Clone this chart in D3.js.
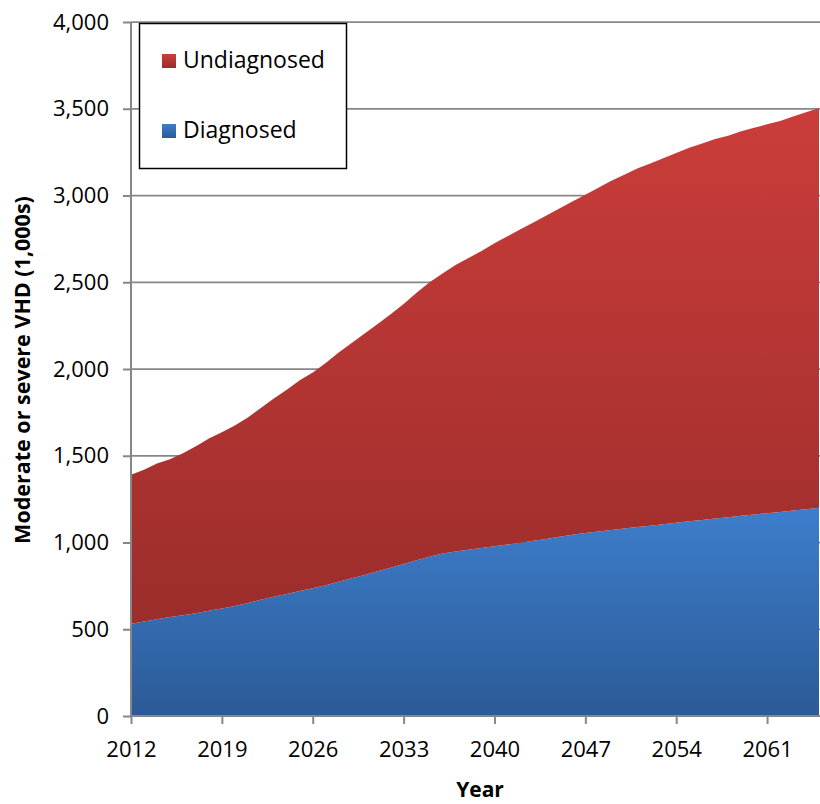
<!DOCTYPE html>
<html>
<head>
<meta charset="utf-8">
<script src="https://cdn.jsdelivr.net/npm/d3@7"></script>
<style>
    body { margin: 0; background: #fff; }
    text { font-family: "Open Sans", sans-serif; fill: #000; }
</style>
</head>
<body>
<div id="chart"></div>
<script>
// years on the category axis
let years = d3.range(2012, 2066);
let tickYears = [2012, 2019, 2026, 2033, 2040, 2047, 2054, 2061];
let yTicks = [0, 500, 1000, 1500, 2000, 2500, 3000, 3500, 4000];

// series values, thousands of people
let diagnosed = [532, 545, 558, 570, 580, 592, 606, 620, 634, 651,
    670, 687, 703, 720, 736, 754, 774, 794, 813, 834,
    855, 876, 898, 918, 936, 948, 958, 968, 978, 988,
    998, 1010, 1020, 1033, 1045, 1055, 1063, 1072, 1080, 1089,
    1097, 1105, 1114, 1122, 1130, 1138, 1146, 1154, 1162, 1169,
    1176, 1184, 1192, 1200];
let undiagnosed = [858, 875, 897, 910, 935, 963, 994, 1015, 1041, 1069,
    1105, 1143, 1177, 1215, 1244, 1281, 1321, 1356, 1392, 1426,
    1460, 1499, 1542, 1582, 1614, 1652, 1682, 1712, 1747, 1777,
    1807, 1835, 1865, 1892, 1920, 1950, 1982, 2013, 2040, 2066,
    2088, 2110, 2131, 2153, 2170, 2187, 2199, 2216, 2228, 2241,
    2254, 2271, 2288, 2305];

let seriesNames = ['Diagnosed', 'Undiagnosed'];

let width = 820, height = 804;
let plotLeft = 131, plotRight = 820, plotTop = 22, plotBottom = 716;

let svg = d3.select('#chart').append('svg')
    .attr('width', width)
    .attr('height', height);

let defs = svg.append('defs');
function addGradient(id, c1, c2){
    let g = defs.append('linearGradient')
        .attr('id', id)
        .attr('x1', 0).attr('y1', 0)
        .attr('x2', 0).attr('y2', 1);
    g.append('stop').attr('offset', '0%').attr('stop-color', c1);
    g.append('stop').attr('offset', '100%').attr('stop-color', c2);
}
addGradient('gradRed', '#cb3d3a', '#9b2d2b');
addGradient('gradBlue', '#3d7ecc', '#2c5a96');

let fills = { 'Diagnosed': 'url(#gradBlue)', 'Undiagnosed': 'url(#gradRed)' };

let x = d3.scaleLinear()
    .domain([2012, 2065])
    .range([plotLeft, plotRight - 1]);

let y = d3.scaleLinear()
    .domain([0, 4000])
    .range([plotBottom, plotTop]);

let table = years.map(function(yr, i){
    return { year: yr, 'Diagnosed': diagnosed[i], 'Undiagnosed': undiagnosed[i] };
});

let stacked = d3.stack().keys(seriesNames)(table);

// gridlines
svg.append('g')
    .selectAll('line')
    .data(yTicks.filter(function(d){ return d > 0; }))
    .enter()
    .append('line')
    .attr('x1', plotLeft)
    .attr('x2', plotRight)
    .attr('y1', function(d){ return y(d); })
    .attr('y2', function(d){ return y(d); })
    .attr('stroke', '#878787')
    .attr('stroke-width', 1.75);

let area = d3.area()
    .x(function(d){ return x(d.data.year); })
    .y0(function(d){ return y(d[0]); })
    .y1(function(d){ return y(d[1]); });

svg.append('g')
    .selectAll('path')
    .data(stacked)
    .enter()
    .append('path')
    .attr('d', area)
    .attr('fill', function(d){ return fills[d.key]; });

// y axis
let yAxis = svg.append('g')
    .attr('transform', `translate(${plotLeft},0)`)
    .call(d3.axisLeft(y).tickValues(yTicks).tickSize(8).tickPadding(14)
        .tickFormat(d3.format(',')));

// x axis
let xAxis = svg.append('g')
    .attr('transform', `translate(0,${plotBottom})`)
    .call(d3.axisBottom(x).tickValues(tickYears).tickSize(8).tickPadding(17)
        .tickFormat(d3.format('d')));

[yAxis, xAxis].forEach(function(ax){
    ax.select('.domain').attr('stroke', '#878787').attr('stroke-width', 2);
    ax.selectAll('.tick line').attr('stroke', '#878787').attr('stroke-width', 2);
    ax.selectAll('.tick text')
        .attr('font-size', 22)
        .style('font-family', '"Open Sans", sans-serif')
        .attr('fill', '#000');
});
yAxis.select('.domain').attr('d', `M0,${plotTop}V${plotBottom}`);
xAxis.select('.domain').attr('d', `M${plotLeft},0H${plotRight}`);

// axis titles
svg.append('text')
    .attr('transform', `translate(30,${(plotTop + plotBottom) / 2 + 1}) rotate(-90)`)
    .attr('text-anchor', 'middle')
    .attr('font-size', 21.5)
    .attr('font-weight', 'bold')
    .text('Moderate or severe VHD (1,000s)');

svg.append('text')
    .attr('x', 480)
    .attr('y', 797)
    .attr('text-anchor', 'middle')
    .attr('font-size', 21)
    .attr('font-weight', 'bold')
    .text('Year');

// legend
let legend = svg.append('g');
legend.append('rect')
    .attr('x', 139.5)
    .attr('y', 23.5)
    .attr('width', 207)
    .attr('height', 145)
    .attr('fill', '#fff')
    .attr('stroke', '#000')
    .attr('stroke-width', 1.5);

let legendItems = ['Undiagnosed', 'Diagnosed'];
legend.selectAll('g.item')
    .data(legendItems)
    .enter()
    .append('g')
    .attr('class', 'item')
    .attr('transform', function(d, i){ return `translate(162,${54 + i * 70})`; })
    .each(function(d){
        let g = d3.select(this);
        g.append('rect')
            .attr('width', 14)
            .attr('height', 14)
            .attr('fill', fills[d]);
        g.append('text')
            .attr('x', 21)
            .attr('y', 14)
            .attr('font-size', 23)
            .text(d);
    });
</script>
</body>
</html>
